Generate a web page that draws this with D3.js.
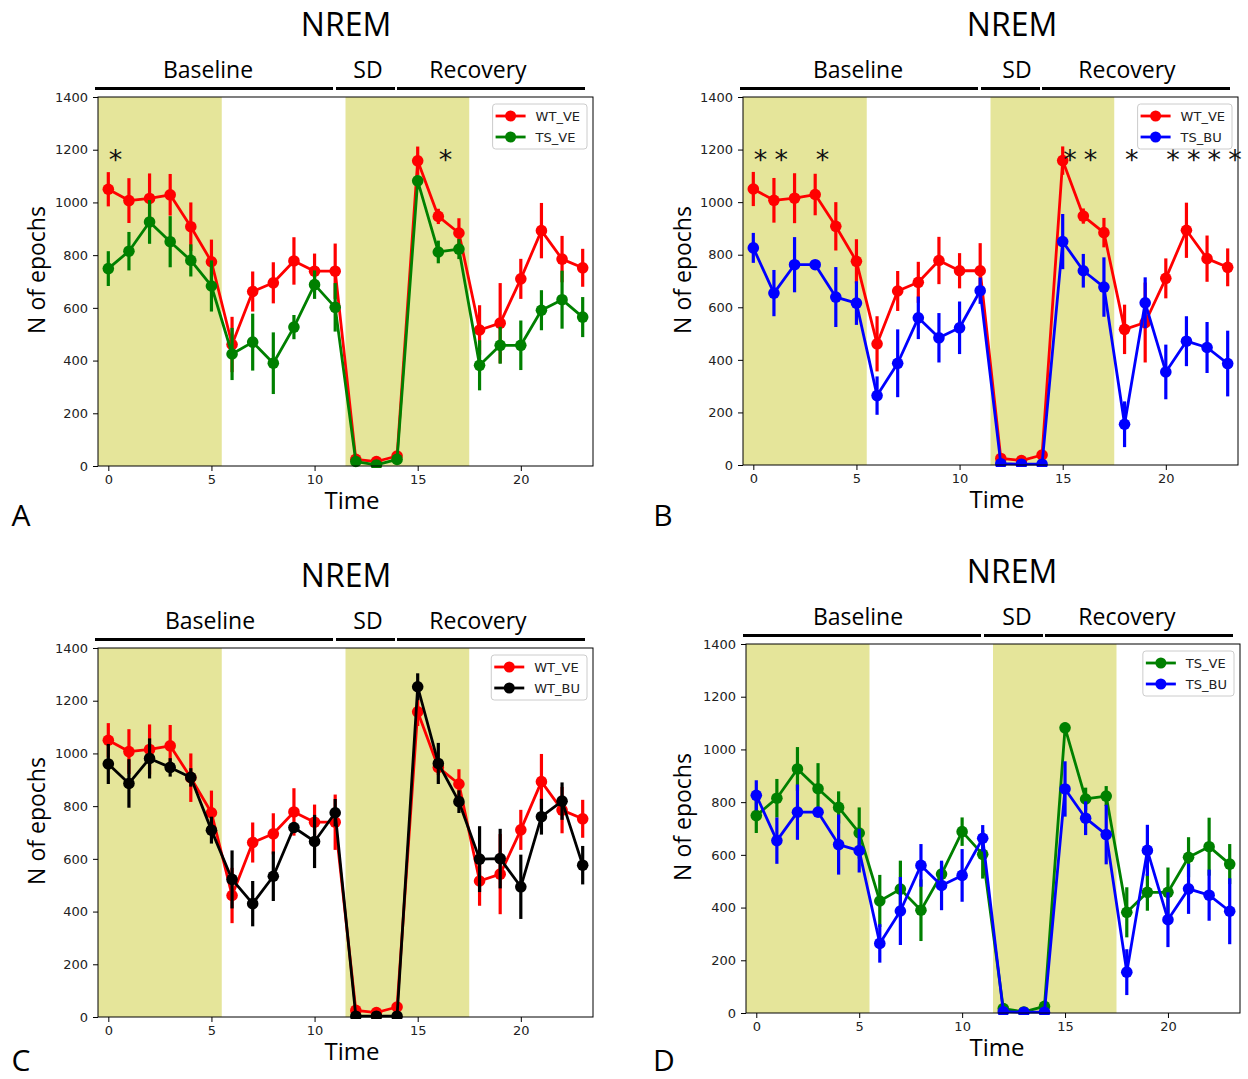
<!DOCTYPE html>
<html>
<head>
<meta charset="utf-8">
<script src="https://cdn.jsdelivr.net/npm/d3@7"></script>
<style>
  html, body { margin: 0; padding: 0; background: #fff; }
  svg { display: block; }
  .tick text { font-family: "DejaVu Sans", sans-serif; font-size: 13px; fill: #222; }
  .tick line { stroke: #000; }
</style>
</head>
<body>
<svg id="fig" width="1248" height="1079"></svg>
<script>
// Hourly NREM epoch counts (mean and error) for each group
const hours = d3.range(0, 24);

const wtVE    = [1050, 1007, 1015, 1029, 908, 775, 461, 662, 695, 778, 739, 739, 25, 17, 38, 1158, 947, 884, 516, 542, 710, 893, 785, 752];
const wtVEerr = [65, 85, 95, 79, 92, 84, 105, 76, 78, 90, 67, 105, 10, 8, 12, 54, 29, 56, 94, 152, 76, 105, 88, 72];

const tsVE    = [749, 815, 926, 851, 780, 683, 425, 470, 390, 527, 688, 602, 17, 4, 25, 1082, 812, 823, 382, 458, 458, 591, 631, 565];
const tsVEerr = [66, 73, 83, 97, 61, 97, 99, 108, 117, 46, 54, 92, 8, 4, 10, 20, 43, 38, 95, 70, 94, 76, 110, 76];

const wtBU    = [960, 886, 981, 947, 909, 709, 522, 430, 534, 719, 666, 775, 3, 3, 3, 1253, 962, 817, 599, 601, 494, 760, 819, 576];
const wtBUerr = [76, 92, 76, 35, 35, 51, 110, 86, 94, 20, 101, 52, 3, 3, 3, 51, 78, 43, 125, 113, 122, 68, 71, 73];

const tsBU    = [826, 654, 762, 762, 639, 616, 264, 387, 560, 484, 522, 663, 5, 3, 3, 850, 739, 677, 155, 617, 354, 471, 447, 386];
const tsBUerr = [57, 88, 105, 16, 114, 83, 73, 129, 81, 94, 100, 50, 5, 3, 3, 105, 64, 113, 87, 97, 104, 95, 97, 125];

// Significance marks (hour index) per comparison
const starsA = [0, 16];
const starsB = [0, 1, 3, 15, 16, 18, 20, 21, 22, 23];

// Shaded (light) periods, in hours
const lightPeriods = [[-0.5, 5.5], [11.5, 17.5]];

const yTicks = [0, 200, 400, 600, 800, 1000, 1200, 1400];
const xTicks = [0, 5, 10, 15, 20];

const groups = {
  WT_VE: { values: wtVE, err: wtVEerr, color: "#ff0000" },
  TS_VE: { values: tsVE, err: tsVEerr, color: "#008000" },
  WT_BU: { values: wtBU, err: wtBUerr, color: "#000000" },
  TS_BU: { values: tsBU, err: tsBUerr, color: "#0000ff" }
};

const panels = [
  { letter: "A", L: 98,  R: 593,  T: 97,  B: 466,  series: ["WT_VE", "TS_VE"], stars: starsA,
    titleX: 346, hdr: [208, 368, 478], ylabX: 37, timeX: 352, letterXY: [21, 526] },
  { letter: "B", L: 743, R: 1238, T: 97,  B: 465,  series: ["WT_VE", "TS_BU"], stars: starsB,
    titleX: 1012, hdr: [858, 1017, 1127], ylabX: 683, timeX: 997, letterXY: [663, 526] },
  { letter: "C", L: 98,  R: 593,  T: 648, B: 1017, series: ["WT_VE", "WT_BU"], stars: [],
    titleX: 346, hdr: [210, 368, 478], ylabX: 37, timeX: 352, letterXY: [21, 1071] },
  { letter: "D", L: 746, R: 1240, T: 644, B: 1013, series: ["TS_VE", "TS_BU"], stars: [],
    titleX: 1012, hdr: [858, 1017, 1127], ylabX: 683, timeX: 997, letterXY: [664, 1071] }
];

const svg = d3.select("#fig");
const calib = '"Open Sans", "Noto Sans", sans-serif';

panels.forEach((p, pi) => {
  const g = svg.append("g");
  const x = d3.scaleLinear().domain([-0.5, 23.5]).range([p.L, p.R]);
  const y = d3.scaleLinear().domain([0, 1400]).range([p.B, p.T]);
  const clipId = "clip" + pi;

  g.append("clipPath").attr("id", clipId)
    .append("rect").attr("x", p.L).attr("y", p.T - 2).attr("width", p.R - p.L).attr("height", p.B - p.T + 4);

  // light-phase shading
  g.selectAll("rect.shade").data(lightPeriods).join("rect")
    .attr("class", "shade")
    .attr("x", d => x(d[0])).attr("width", d => x(d[1]) - x(d[0]))
    .attr("y", p.T).attr("height", p.B - p.T)
    .attr("fill", "#e5e59a");

  // series: error bars, line, markers
  const plot = g.append("g").attr("clip-path", `url(#${clipId})`);
  p.series.forEach(name => {
    const s = groups[name];
    const sg = plot.append("g");
    sg.selectAll("line.err").data(hours).join("line")
      .attr("x1", d => x(d)).attr("x2", d => x(d))
      .attr("y1", d => y(s.values[d] - s.err[d])).attr("y2", d => y(s.values[d] + s.err[d]))
      .attr("stroke", s.color).attr("stroke-width", 3.2);
    sg.append("path")
      .datum(hours)
      .attr("d", d3.line().x(d => x(d)).y(d => y(s.values[d])))
      .attr("fill", "none").attr("stroke", s.color).attr("stroke-width", 2.8)
      .attr("stroke-linejoin", "round");
    sg.selectAll("circle").data(hours).join("circle")
      .attr("cx", d => x(d)).attr("cy", d => y(s.values[d])).attr("r", 5.8)
      .attr("fill", s.color);
  });

  // significance stars
  g.selectAll("text.star").data(p.stars).join("text")
    .attr("x", d => x(d + 0.35)).attr("y", y(1125))
    .attr("text-anchor", "middle")
    .style("font-family", '"DejaVu Sans", sans-serif').style("font-size", "27px").attr("fill", "#111")
    .text("*");

  // spines
  g.append("rect").attr("x", p.L).attr("y", p.T).attr("width", p.R - p.L).attr("height", p.B - p.T)
    .attr("fill", "none").attr("stroke", "#000").attr("stroke-width", 1);

  // axes
  const ay = g.append("g").attr("transform", `translate(${p.L},0)`)
    .call(d3.axisLeft(y).tickValues(yTicks).tickFormat(d3.format("d")).tickSize(5).tickPadding(5).tickSizeOuter(0));
  ay.select(".domain").remove();
  const ax = g.append("g").attr("transform", `translate(0,${p.B})`)
    .call(d3.axisBottom(x).tickValues(xTicks).tickFormat(d3.format("d")).tickSize(5).tickPadding(4).tickSizeOuter(0));
  ax.select(".domain").remove();

  // legend
  const lg = g.append("g");
  const lx = p.R - 100, ly = p.T + 7;
  const box = lg.append("rect").attr("x", lx).attr("y", ly).attr("height", 45).attr("rx", 3)
    .attr("fill", "#fff").attr("fill-opacity", 0.85).attr("stroke", "#cccccc").attr("stroke-width", 1);
  let maxW = 0;
  p.series.forEach((name, i) => {
    const s = groups[name];
    const ry = ly + 12 + i * 21;
    lg.append("line").attr("x1", lx + 3).attr("x2", lx + 33).attr("y1", ry).attr("y2", ry)
      .attr("stroke", s.color).attr("stroke-width", 2.8);
    lg.append("circle").attr("cx", lx + 18).attr("cy", ry).attr("r", 5.5).attr("fill", s.color);
    const t = lg.append("text").attr("x", lx + 43).attr("y", ry).attr("dy", "0.36em")
      .style("font-family", '"DejaVu Sans", sans-serif').style("font-size", "13px").attr("fill", "#222")
      .text(name);
    maxW = Math.max(maxW, t.node().getComputedTextLength());
  });
  const bw = 43 + maxW + 7;
  box.attr("width", bw);
  lg.attr("transform", `translate(${100 - bw - 6},0)`);

  // titles and period headers
  g.append("text").attr("x", p.titleX).attr("y", p.T - 61).attr("text-anchor", "middle")
    .style("font-family", calib).style("font-size", "32px").attr("fill", "#000").text("NREM");
  const headers = ["Baseline", "SD", "Recovery"];
  headers.forEach((h, i) => {
    g.append("text").attr("x", p.hdr[i]).attr("y", p.T - 19).attr("text-anchor", "middle")
      .style("font-family", calib).style("font-size", "23px").attr("fill", "#000").text(h);
  });
  const spans = [[-3, 235], [238, 297], [299, 487]];
  spans.forEach(s => {
    g.append("line").attr("x1", p.L + s[0]).attr("x2", p.L + s[1])
      .attr("y1", p.T - 8.5).attr("y2", p.T - 8.5).attr("stroke", "#000").attr("stroke-width", 3);
  });

  // axis labels
  g.append("text").attr("transform", `translate(${p.ylabX + 8},${p.T + 173}) rotate(-90)`)
    .attr("text-anchor", "middle")
    .style("font-family", calib).style("font-size", "23px").attr("fill", "#000").text("N of epochs");
  g.append("text").attr("x", p.timeX).attr("y", p.B + 43).attr("text-anchor", "middle")
    .style("font-family", calib).style("font-size", "24px").attr("fill", "#000").text("Time");

  // panel letter
  g.append("text").attr("x", p.letterXY[0]).attr("y", p.letterXY[1]).attr("text-anchor", "middle")
    .style("font-family", calib).style("font-size", "30px").attr("fill", "#000").text(p.letter);
});
</script>
</body>
</html>
